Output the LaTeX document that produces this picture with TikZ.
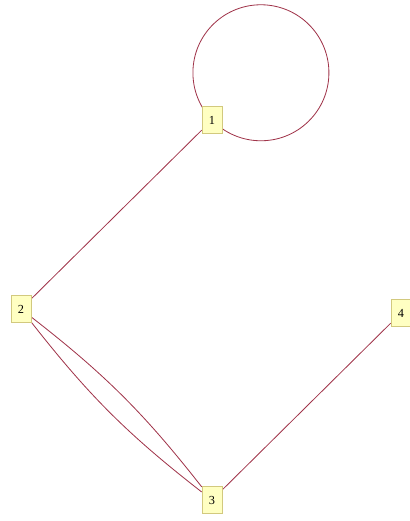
\documentclass[tikz,border=0pt]{standalone}
\usepackage{fontspec}
\setmainfont{Liberation Serif}
\usepackage{xcolor}
\usepackage{tikz}
\usetikzlibrary{arrows.meta, positioning, backgrounds}
\definecolor{C_EDGE}{HTML}{A0344A}
\definecolor{C_VFILL}{HTML}{FFFFC2}
\definecolor{C_VDRAW}{HTML}{D2C97E}
\tikzset{
  %% -- graph vertex label box --
  G/vtx/.style={
    draw=C_VDRAW, fill=C_VFILL, line width=0.5pt,
    minimum width=0.6cm, minimum height=0.8cm,
    inner sep=1pt, font=\fontsize{10.5}{12}\selectfont
  },
  %% -- graph edge --
  G/edge/.style={draw=C_EDGE, line width=0.7pt},
}
\begin{document}
\begin{tikzpicture}[
  x=0.03cm, y=-0.03cm,
]
%% ── Canvas (pixel grid of the reference) ─────────────────────
\useasboundingbox (0,0) rectangle (409,521);

%% ── Vertices ─────────────────────────────────────────────────
\node[G/vtx] (v1) at (212,120) {1};
\node[G/vtx] (v2) at (21,309)  {2};
\node[G/vtx] (v3) at (212,500) {3};
\node[G/vtx] (v4) at (401,313) {4};

%% ── Edges (behind the vertices) ──────────────────────────────
\begin{scope}[on background layer]
  %% self-loop at 1
  \draw[G/edge] (v1.center) arc[start angle=224, delta angle=360,
    radius=2.04cm];
  %% 1 -- 2
  \draw[G/edge] (v1) -- (v2);
  %% 2 -- 3 (double edge)
  \draw[G/edge] (v2) to[bend left=7] (v3);
  \draw[G/edge] (v2) to[bend right=7] (v3);
  %% 3 -- 4
  \draw[G/edge] (v3) -- (v4);
\end{scope}

\end{tikzpicture}
\end{document}
